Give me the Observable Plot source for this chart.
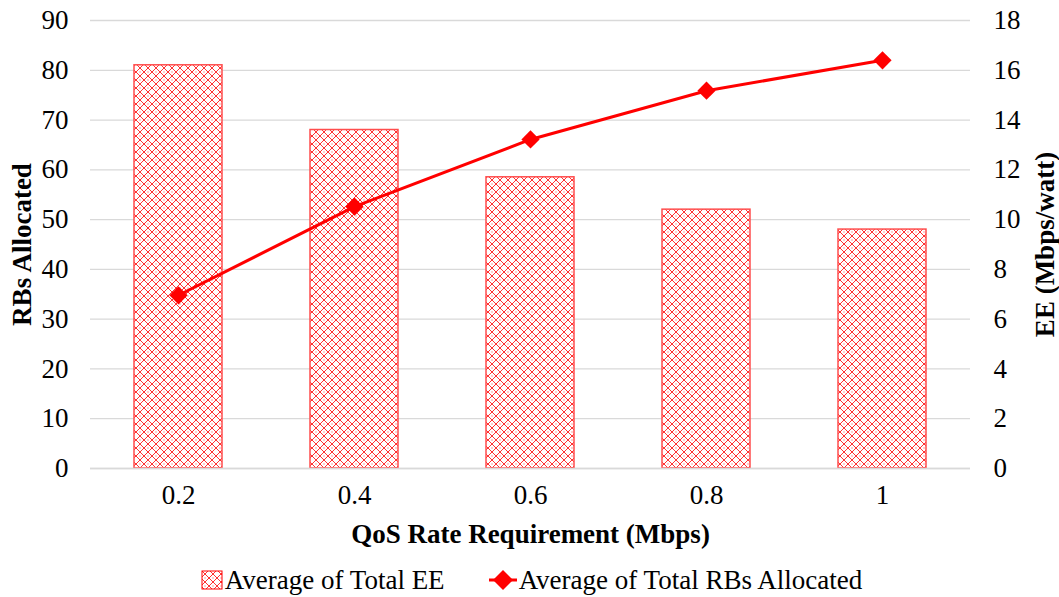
<!DOCTYPE html>
<html>
<head>
<meta charset="utf-8">
<script src="https://cdn.jsdelivr.net/npm/d3@7"></script>
<script src="https://cdn.jsdelivr.net/npm/@observablehq/plot@0.6"></script>
<style>
  html, body { margin: 0; padding: 0; background: #fff; }
  body { width: 1059px; height: 597px; overflow: hidden; font-family: "Liberation Serif", "Times New Roman", serif; }
  #chart svg { display: block; }
  #chart svg text { font-family: "Liberation Serif", "Times New Roman", serif; }
  #legend { display: flex; justify-content: center; align-items: center; gap: 44px; font-size: 27px; line-height: 30px; color: #000; margin-top: 10px; margin-left: 4px; }
  #legend .item { display: flex; align-items: center; }
  #legend svg { display: block; margin-right: 2px; }
</style>
</head>
<body>
<div id="chart"></div>
<div id="legend"></div>
<script>
// QoS rate requirement categories (Mbps)
const qos = ["0.2", "0.4", "0.6", "0.8", "1"];
// Average total energy efficiency (Mbps/watt) — right axis, bars
const avgEE = [16.2, 13.6, 11.7, 10.4, 9.6];
// Average total resource blocks allocated — left axis, line
const avgRBs = [34.8, 52.6, 66.1, 75.9, 82.0];
// Left axis ticks (RBs) and right axis ticks (EE)
const rbTicks = [0, 10, 20, 30, 40, 50, 60, 70, 80, 90];
const eeTicks = [0, 2, 4, 6, 8, 10, 12, 14, 16, 18];

const rbMax = 90, eeMax = 18;
const eeToRb = rbMax / eeMax; // right axis shares the plot's y scale

const rows = qos.map((q, i) => ({ qos: q, ee: avgEE[i], rbs: avgRBs[i] }));

const red = "#ff0000";
const font = "'Liberation Serif', 'Times New Roman', serif";
const fs = 27;

const chart = Plot.plot({
  width: 1059,
  height: 555,
  marginTop: 20,
  marginBottom: 87,
  marginLeft: 90,
  marginRight: 89,
  style: { fontFamily: font, fontSize: fs + "px", color: "#000", background: "#fff" },
  x: { type: "band", domain: qos, paddingInner: 0.5, paddingOuter: 0.25, align: 0.5 },
  y: { domain: [0, rbMax] },
  marks: [
    Plot.gridY(rbTicks, { stroke: "#d9d9d9", strokeOpacity: 1, strokeWidth: 1.3 }),
    Plot.barY(rows, {
      x: "qos",
      y: d => d.ee * eeToRb,
      fill: "url(#xhatch)",
      stroke: "#ff4d4d",
      strokeWidth: 1.5
    }),
    Plot.ruleY([0], { stroke: "#d9d9d9", strokeWidth: 1.5 }),
    Plot.line(rows, { x: "qos", y: "rbs", stroke: red, strokeWidth: 3 }),
    Plot.dot(rows, { x: "qos", y: "rbs", symbol: "diamond2", r: 8.2, fill: red, stroke: "none" }),
    Plot.axisY(rbTicks, {
      anchor: "left", tickSize: 0, tickPadding: 22, fontSize: fs,
      label: null
    }),
    Plot.axisY(eeTicks.map(v => v * eeToRb), {
      anchor: "right", tickSize: 0, tickPadding: 23, fontSize: fs,
      tickFormat: v => String(Math.round(v / eeToRb)),
      label: null
    }),
    Plot.axisX({ tickSize: 0, tickPadding: 16, fontSize: fs, label: null }),
    Plot.text(["RBs Allocated"], {
      frameAnchor: "left", dx: -68, rotate: -90, textAnchor: "middle", fontWeight: "bold", fontSize: fs
    }),
    Plot.text(["EE (Mbps/watt)"], {
      frameAnchor: "right", dx: 75, rotate: -90, textAnchor: "middle", fontWeight: "bold", fontSize: fs
    }),
    Plot.text(["QoS Rate Requirement (Mbps)"], {
      frameAnchor: "bottom", dy: 74, fontWeight: "bold", fontSize: fs
    })
  ]
});

// Cross-hatch fill used by the bars and the legend swatch
function hatchDefs(id) {
  return `<defs><pattern id="${id}" patternUnits="userSpaceOnUse" width="8" height="8">
    <rect width="8" height="8" fill="#fff"/>
    <path d="M0,0L8,8M8,0L0,8" stroke="#ff3333" stroke-width="1" shape-rendering="crispEdges"/>
    <path d="M4,-1L4,1M4,7L4,9" stroke="#ffa0a0" stroke-width="1"/>
  </pattern></defs>`;
}
chart.insertAdjacentHTML("afterbegin", hatchDefs("xhatch"));
document.getElementById("chart").appendChild(chart);

// Legend
const legend = document.getElementById("legend");
legend.innerHTML = `
  <div class="item">
    <svg width="22" height="20">${hatchDefs("xhatch-legend")}
      <rect x="1" y="1" width="20" height="18" fill="url(#xhatch-legend)" stroke="${red}" stroke-width="1"/>
    </svg><span>Average of Total EE</span>
  </div>
  <div class="item">
    <svg width="28" height="22">
      <line x1="0" y1="11" x2="28" y2="11" stroke="${red}" stroke-width="3"/>
      <path d="M14,1L24,11L14,21L4,11Z" fill="${red}"/>
    </svg><span>Average of Total RBs Allocated</span>
  </div>`;
</script>
</body>
</html>
